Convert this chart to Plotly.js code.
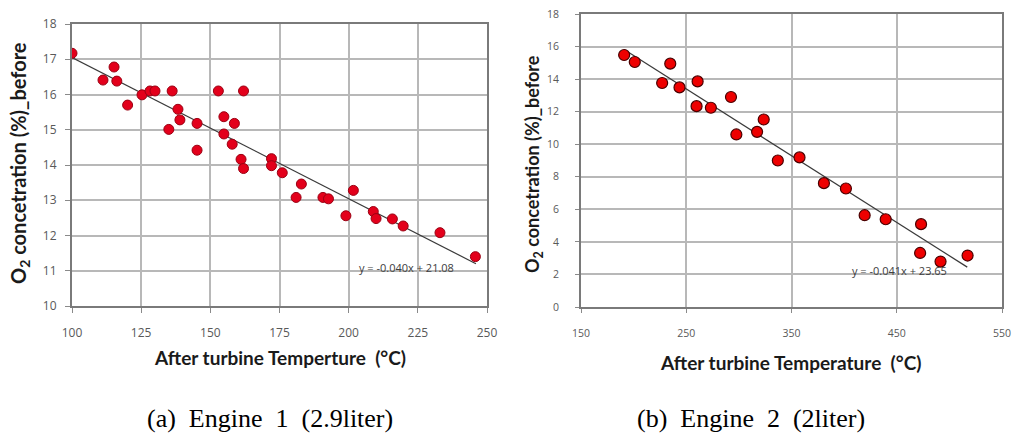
<!DOCTYPE html>
<html>
<head>
<meta charset="utf-8">
<script src="https://cdn.plot.ly/plotly-3.0.1.min.js"></script>
<style>html,body{margin:0;padding:0;background:#fff;}#chart{width:1022px;height:440px;}</style>
</head>
<body>
<div id="chart"></div>
<script>
// Engine 1 (2.9 liter)
const e1Temp = [100, 111.2, 115.2, 116.2, 120.1, 125.3, 128.2, 130, 136.2, 138.3, 139, 135, 145.2, 145.2, 152.9, 154.9, 154.9, 158.7, 157.9, 161.1, 162, 162, 172.1, 172.1, 176, 182.9, 181, 190.7, 192.7, 201.7, 199, 208.9, 209.9, 215.8, 219.7, 233, 245.8];
const e1O2 = [17.17, 16.41, 16.78, 16.38, 15.7, 15.99, 16.1, 16.1, 16.1, 15.58, 15.28, 15.01, 15.18, 14.42, 16.1, 15.37, 14.88, 15.18, 14.59, 14.16, 13.9, 16.1, 14.18, 13.98, 13.78, 13.46, 13.08, 13.08, 13.04, 13.28, 12.56, 12.68, 12.48, 12.47, 12.27, 12.08, 11.4];
const e1TrendX = [100, 246];
const e1TrendY = [17.05, 11.2];
const e1Eq = "y = -0.040x + 21.08";

// Engine 2 (2 liter)
const e2Temp = [191, 201.1, 234.8, 227.1, 243.6, 260.8, 259.8, 273.4, 292.5, 297.6, 317.3, 323.6, 337, 357.6, 380.8, 401.7, 419.5, 439.5, 473.1, 472.2, 491.6, 517.3];
const e2O2 = [15.48, 15.05, 14.95, 13.76, 13.49, 13.86, 12.34, 12.24, 12.9, 10.6, 10.76, 11.52, 9.0, 9.19, 7.61, 7.28, 5.64, 5.39, 5.09, 3.32, 2.79, 3.16];
const e2TrendX = [191, 517];
const e2TrendY = [15.82, 2.45];
const e2Eq = "y = -0.041x + 23.65";

const yTitle = "O<sub>2</sub> concetration (%)_before";
const x1Title = "After turbine Temperture\u00a0 (\u00b0C)";
const x2Title = "After turbine Temperature\u00a0 (\u00b0C)";
const cap1 = "(a)\u00a0 Engine\u00a0 1\u00a0 (2.9liter)";
const cap2 = "(b)\u00a0 Engine\u00a0 2\u00a0 (2liter)";

const tickFont = {family: "Open Sans, sans-serif", size: 12, color: "#595959"};
const tickFont2 = {family: "Open Sans, sans-serif", size: 10.5, color: "#595959"};
const titleFont = {family: "Lato, sans-serif", size: 19, color: "#1a1a1a", weight: "bold"};

const traces = [
  {x: e1TrendX, y: e1TrendY, xaxis: "x", yaxis: "y", mode: "lines", line: {color: "#3a3a3a", width: 1.2}, hoverinfo: "skip"},
  {x: e1Temp, y: e1O2, xaxis: "x", yaxis: "y", mode: "markers", marker: {size: 10, color: "#e3001b", line: {color: "#9a0012", width: 1}}},
  {x: e2TrendX, y: e2TrendY, xaxis: "x2", yaxis: "y2", mode: "lines", line: {color: "#3a3a3a", width: 1.2}, hoverinfo: "skip"},
  {x: e2Temp, y: e2O2, xaxis: "x2", yaxis: "y2", mode: "markers", marker: {size: 11, color: "#ee0000", line: {color: "#4a0000", width: 1.2}}}
];

const axisCommon = {
  showgrid: true, gridcolor: "#b8b8b8", gridwidth: 2,
  showline: true, linecolor: "#7a7a7a", linewidth: 2, mirror: true,
  ticks: "outside", ticklen: 5, tickcolor: "#8a8a8a", tickwidth: 1,
  zeroline: false, fixedrange: true
};

function ann(text, x, y, font, extra) {
  return Object.assign({text: text, xref: "paper", yref: "paper", x: x / 1022, y: 1 - y / 440,
    xanchor: "center", yanchor: "middle", showarrow: false, font: font}, extra || {});
}

const layout = {
  width: 1022, height: 440,
  margin: {l: 0, r: 0, t: 0, b: 0},
  paper_bgcolor: "#ffffff", plot_bgcolor: "#ffffff",
  showlegend: false,
  xaxis: Object.assign({}, axisCommon, {domain: [72/1022, 487/1022], range: [100, 250], dtick: 25, tick0: 100, anchor: "y", tickfont: tickFont, ticklabelstandoff: 10}),
  yaxis: Object.assign({}, axisCommon, {domain: [1-306/440, 1-24/440], range: [10, 18], dtick: 1, anchor: "x", tickfont: tickFont, ticklabelstandoff: 6}),
  xaxis2: Object.assign({}, axisCommon, {domain: [581/1022, 1002/1022], range: [150, 550], dtick: 100, tick0: 150, anchor: "y2", ticklen: 4, tickfont: tickFont2, ticklabelstandoff: 11}),
  yaxis2: Object.assign({}, axisCommon, {domain: [1-307/440, 1-14/440], range: [0, 18], dtick: 2, anchor: "x2", ticklen: 4, tickfont: tickFont2, ticklabelstandoff: 14}),
  annotations: [
    {text: e1Eq, xref: "x", yref: "y", x: 221, y: 11.1, xanchor: "center", yanchor: "middle", showarrow: false, font: {family: "Open Sans, sans-serif", size: 11, color: "#404040"}},
    {text: e2Eq, xref: "x2", yref: "y2", x: 453, y: 2.26, xanchor: "center", yanchor: "middle", showarrow: false, font: {family: "Open Sans, sans-serif", size: 11, color: "#404040"}},
    ann(yTitle, 19, 163, Object.assign({}, titleFont, {size: 20}), {textangle: -90}),
    ann(yTitle, 533, 164, Object.assign({}, titleFont, {size: 18}), {textangle: -90}),
    ann(x1Title, 280, 357, titleFont),
    ann(x2Title, 790, 362, titleFont),
    ann(cap1, 270, 418, {family: "Liberation Serif, serif", size: 26, color: "#000"}),
    ann(cap2, 751, 418, {family: "Liberation Serif, serif", size: 26, color: "#000"})
  ]
};

Plotly.newPlot("chart", traces, layout, {staticPlot: true, displayModeBar: false});
</script>
</body>
</html>
